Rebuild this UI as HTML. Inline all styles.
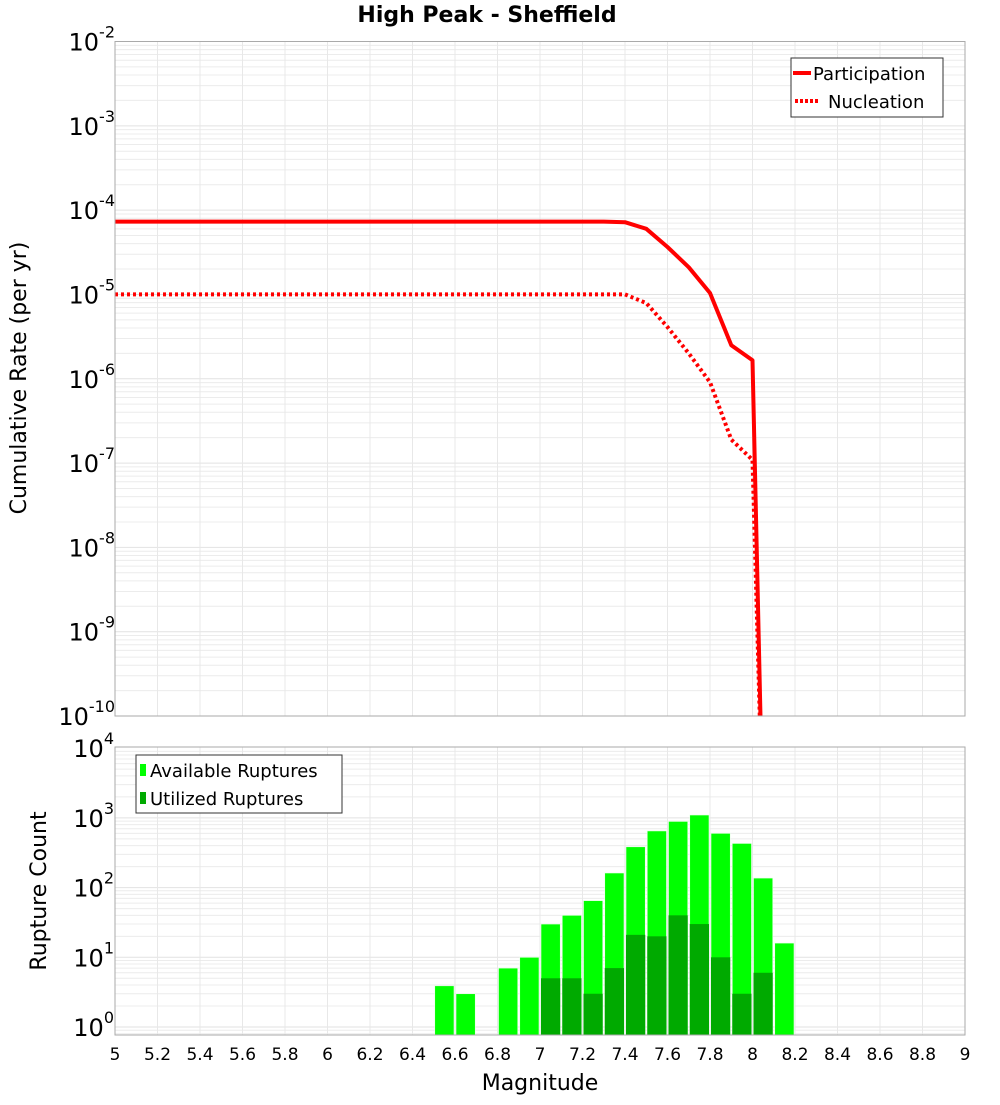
<!DOCTYPE html>
<html><head><meta charset="utf-8"><style>
body{margin:0;background:#fff}
svg text{font-family:"DejaVu Sans","Liberation Sans",sans-serif}
</style></head><body>
<svg id="c" width="1000" height="1100" xmlns="http://www.w3.org/2000/svg">
<text x="487" y="22" text-anchor="middle" font-size="22" font-weight="bold">High Peak - Sheffield</text>
<g id="topg"></g>
<g id="botg"></g>
<text transform="translate(26,378) rotate(-90)" text-anchor="middle" font-size="22">Cumulative Rate (per yr)</text>
<text transform="translate(46,891) rotate(-90)" text-anchor="middle" font-size="22">Rupture Count</text>
<text x="540" y="1090" text-anchor="middle" font-size="22">Magnitude</text>
</svg>
<script>
const magsLine=[5.0,7.3,7.4,7.5,7.6,7.7,7.8,7.9,8.0,8.05];
const participation=[7.3e-5,7.3e-5,7.2e-5,6.0e-5,3.65e-5,2.1e-5,1.04e-5,2.5e-6,1.66e-6,4e-12];
const nucleation=[1.0e-5,1.0e-5,1.0e-5,7.9e-6,4.1e-6,2.0e-6,9.1e-7,1.9e-7,1.09e-7,4e-12];
const binCenters=[6.55,6.65,6.85,6.95,7.05,7.15,7.25,7.35,7.45,7.55,7.65,7.75,7.85,7.95,8.05,8.15];
const available=[3.9,3,7,10,30,40,65,162,385,650,890,1100,600,430,137,16];
const utilized=[0,0,0,0,5,5,3,7,21,20,40,30,10,3,6,0];
const xTicks=[5,5.2,5.4,5.6,5.8,6,6.2,6.4,6.6,6.8,7,7.2,7.4,7.6,7.8,8,8.2,8.4,8.6,8.8,9];
const topExps=[-2,-3,-4,-5,-6,-7,-8,-9,-10];
const botExps=[4,3,2,1,0];

const NS="http://www.w3.org/2000/svg";
const X0=115,X1=965;
const xs=m=>X0+(m-5)*(X1-X0)/4;
const T0=41.5,T1=716, tdec=(T1-T0)/8;
const yt=v=>T0+(-2-Math.log10(v))*tdec;
const B0=747,B1=1035, bdec=69.7;
const yb=v=>1027-Math.log10(v)*bdec;
function mk(p,tag,a){const e=document.createElementNS(NS,tag);for(const k in a)e.setAttribute(k,a[k]);p.appendChild(e);return e;}
const topG=document.getElementById('topg'),botG=document.getElementById('botg'),svg=document.getElementById('c');

function grid(g,y0,y1,yf,lo,hi){
  for(let e=lo;e<hi;e++)for(let k=1;k<10;k++){const y=yf(k*Math.pow(10,e));if(y<y0-0.5||y>y1+0.5)continue;
    const l=mk(g,'line',{x1:X0,x2:X1,y1:y,y2:y,stroke:k==1?'#e2e2e2':'#ececec','stroke-width':1});
    
    }
  xTicks.forEach(t=>{const l=mk(g,'line',{x1:xs(t),x2:xs(t),y1:y0,y2:y1,stroke:'#e8e8e8'});
    
    });
}
grid(topG,T0,T1,yt,-11,-1);
grid(botG,B0,B1,yb,-1,4);

topExps.forEach(e=>{const y=yt(Math.pow(10,e));const t=mk(svg,'text',{x:115,y:y+9,'text-anchor':'end','font-size':24});
  t.innerHTML='10<tspan dy="-13" font-size="16">'+e+'</tspan>';
  
  });
botExps.forEach(e=>{const y=yb(Math.pow(10,e));const t=mk(svg,'text',{x:114,y:y+9,'text-anchor':'end','font-size':24});
  t.innerHTML='10<tspan dy="-13" font-size="16">'+e+'</tspan>';
  
  });
xTicks.forEach(v=>{const t=mk(svg,'text',{x:xs(v),y:1060,'text-anchor':'middle','font-size':17});
  t.textContent=String(v);
  
  });

const defs=mk(svg,'defs',{});
const cp=mk(defs,'clipPath',{id:'cpt'});mk(cp,'rect',{x:X0,y:T0,width:X1-X0,height:T1-T0});
const lg=mk(topG,'g',{'clip-path':'url(#cpt)'});
function path(vals){return magsLine.map((m,i)=>(i?'L':'M')+xs(m).toFixed(1)+','+yt(vals[i]).toFixed(1)).join(' ');}
const pn=mk(lg,'path',{d:path(nucleation),fill:'none',stroke:'#ff0000','stroke-width':4,'stroke-dasharray':'3,3'});


const pp=mk(lg,'path',{d:path(participation),fill:'none',stroke:'#ff0000','stroke-width':4,'stroke-linejoin':'round'});


mk(topG,'rect',{x:X0,y:T0,width:X1-X0,height:T1-T0,fill:'none',stroke:'#aaa'});

const bw=(xs(0.1)-xs(0));
binCenters.forEach((c,i)=>{
  const x=xs(c)-bw/2+1;
  const r=mk(botG,'rect',{x:x,y:yb(available[i]),width:bw-2,height:B1-yb(available[i]),fill:'#00ff00',stroke:'#e8ffe8','stroke-width':0.6});
  
  
  if(utilized[i]>0){const r2=mk(botG,'rect',{x:x,y:yb(utilized[i]),width:bw-2,height:B1-yb(utilized[i]),fill:'#00aa00'});
  
  }
});
mk(botG,'rect',{x:X0,y:B0,width:X1-X0,height:B1-B0,fill:'none',stroke:'#aaa'});

const l1=mk(svg,'g',{});


mk(l1,'rect',{x:791,y:58,width:152,height:59,fill:'#fff',stroke:'#333'});
mk(l1,'line',{x1:793,x2:811,y1:73,y2:73,stroke:'#f00','stroke-width':4});
mk(l1,'line',{x1:795,x2:820,y1:101,y2:101,stroke:'#f00','stroke-width':4,'stroke-dasharray':'3,2'});
let t=mk(l1,'text',{x:813,y:80,'font-size':18});t.textContent='Participation';
t=mk(l1,'text',{x:828,y:108,'font-size':18});t.textContent='Nucleation';
const l2=mk(svg,'g',{});


mk(l2,'rect',{x:136,y:755,width:206,height:58,fill:'#fff',stroke:'#333'});
mk(l2,'rect',{x:140,y:764,width:6,height:12,fill:'#00ff00'});
mk(l2,'rect',{x:140,y:792,width:6,height:12,fill:'#00aa00'});
t=mk(l2,'text',{x:150,y:777,'font-size':18});t.textContent='Available Ruptures';
t=mk(l2,'text',{x:150,y:805,'font-size':18});t.textContent='Utilized Ruptures';
</script>
</body></html>
